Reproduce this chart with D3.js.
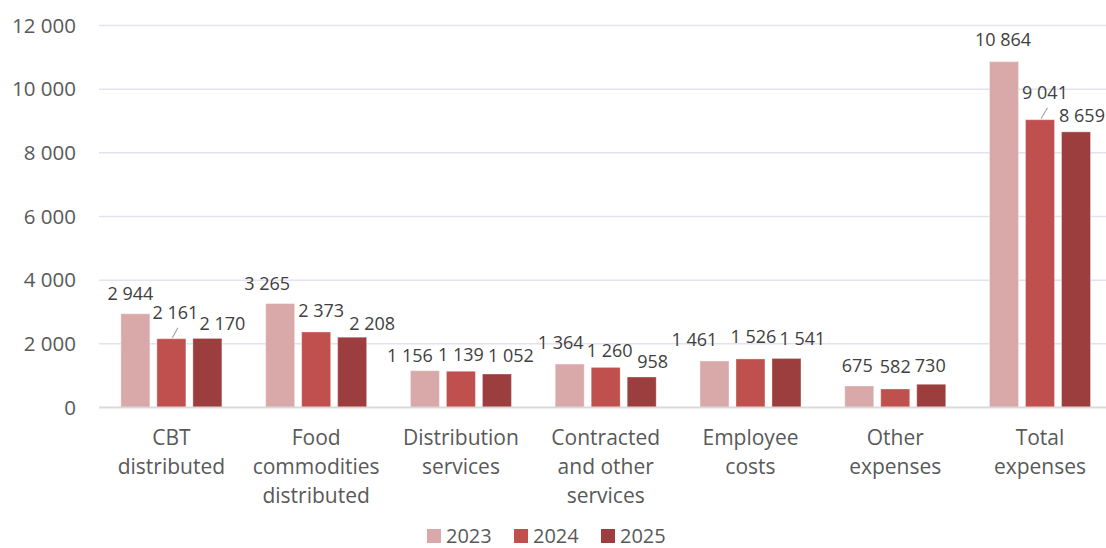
<!DOCTYPE html>
<html>
<head>
<meta charset="utf-8">
<script src="https://cdn.jsdelivr.net/npm/d3@7"></script>
<style>
  body { margin: 0; background: #fff; }
  text { font-family: "Open Sans", sans-serif; }
</style>
</head>
<body>
<div id="chart"></div>
<script>
// data
const categories = [
  ['CBT', 'distributed'],
  ['Food', 'commodities', 'distributed'],
  ['Distribution', 'services'],
  ['Contracted', 'and other', 'services'],
  ['Employee', 'costs'],
  ['Other', 'expenses'],
  ['Total', 'expenses']
];
const years = ['2023', '2024', '2025'];
const values2023 = [2944, 3265, 1156, 1364, 1461, 675, 10864];
const values2024 = [2161, 2373, 1139, 1260, 1526, 582, 9041];
const values2025 = [2170, 2208, 1052, 958, 1541, 730, 8659];
const yTicks = [0, 2000, 4000, 6000, 8000, 10000, 12000];
const colors = ['#d9a9a9', '#c0504d', '#9c3e3d'];

// manual label nudges (dx, dy from bar top), like the moved labels in the original
const labelNudge = [
  [[-5, -14], [4, -20], [15, -8]],
  [[-13, -14], [5, -15], [20, -7]],
  [[-15, -9], [0, -10], [14, -12]],
  [[-9, -15], [4, -10], [11, -9]],
  [[-20, -15], [3, -16], [16, -13]],
  [[-2, -14], [0, -16], [-1, -12]],
  [[-1, -16], [5, -21], [6, -10]]
];

const series = [values2023, values2024, values2025];
const width = 1106, height = 548;

const svg = d3.select('#chart').append('svg')
  .attr('width', width)
  .attr('height', height);

const x = d3.scaleBand()
  .domain(d3.range(categories.length))
  .range([99, 1112.4])
  .paddingInner(0)
  .paddingOuter(0);

const y = d3.scaleLinear()
  .domain([0, 12000])
  .range([407.5, 25.5]);

const fmt = v => d3.format(',')(v).replace(/,/g, '\u00a0');

// gridlines
svg.append('g')
  .selectAll('line')
  .data(yTicks.filter(t => t > 0))
  .join('line')
  .attr('x1', 99).attr('x2', width)
  .attr('y1', d => y(d)).attr('y2', d => y(d))
  .attr('stroke', '#e5e1ee')
  .attr('stroke-width', 1.5);

// y axis labels
svg.append('g')
  .selectAll('text')
  .data(yTicks)
  .join('text')
  .attr('x', 76)
  .attr('y', d => y(d) + 7)
  .attr('text-anchor', 'end')
  .attr('font-size', 20.5)
  .attr('fill', '#595959')
  .text(fmt);

// bars
const barW = 29, step = 36;
const rows = [];
categories.forEach((c, i) => {
  series.forEach((s, k) => {
    rows.push({ i, k, v: s[i], cx: x(i) + x.bandwidth() / 2 + (k - 1) * step });
  });
});

svg.append('g')
  .selectAll('rect')
  .data(rows)
  .join('rect')
  .attr('x', d => d.cx - barW / 2)
  .attr('y', d => y(d.v))
  .attr('width', barW)
  .attr('height', d => y(0) - y(d.v))
  .attr('fill', d => colors[d.k])
  .attr('stroke', 'rgba(255,255,255,0.35)')
  .attr('stroke-width', 1);

// baseline
svg.append('line')
  .attr('x1', 99).attr('x2', width)
  .attr('y1', y(0)).attr('y2', y(0))
  .attr('stroke', '#d9d9d9')
  .attr('stroke-width', 2);

// data labels
const lbl = svg.append('g');
rows.forEach(d => {
  const [dx, dy] = labelNudge[d.i][d.k];
  const lx = d.cx + dx, ly = y(d.v) + dy;
  if (dy <= -18) {
    lbl.append('line')
      .attr('x1', d.cx + 1).attr('y1', y(d.v) - 1)
      .attr('x2', lx + 2.5).attr('y2', ly + 9)
      .attr('stroke', '#a6a6a6')
      .attr('stroke-width', 1.2);
  }
  lbl.append('text')
    .attr('x', lx)
    .attr('y', ly)
    .attr('text-anchor', 'middle')
    .attr('font-size', 18)
    .attr('fill', '#404040')
    .text(fmt(d.v));
});

// category labels
svg.append('g')
  .selectAll('text')
  .data(categories)
  .join('text')
  .attr('x', (d, i) => x(i) + x.bandwidth() / 2)
  .attr('y', 445)
  .attr('text-anchor', 'middle')
  .attr('font-size', 21)
  .attr('fill', '#595959')
  .selectAll('tspan')
  .data(d => d)
  .join('tspan')
  .attr('x', function () { return this.parentNode.getAttribute('x'); })
  .attr('dy', (d, j) => j === 0 ? 0 : 29)
  .text(d => d);

// legend
const leg = svg.append('g');
years.forEach((yr, k) => {
  const lx = 427 + k * 87;
  leg.append('rect')
    .attr('x', lx).attr('y', 529)
    .attr('width', 14).attr('height', 14)
    .attr('fill', colors[k]);
  leg.append('text')
    .attr('x', lx + 19).attr('y', 543)
    .attr('font-size', 20)
    .attr('fill', '#595959')
    .text(yr);
});
</script>
</body>
</html>
